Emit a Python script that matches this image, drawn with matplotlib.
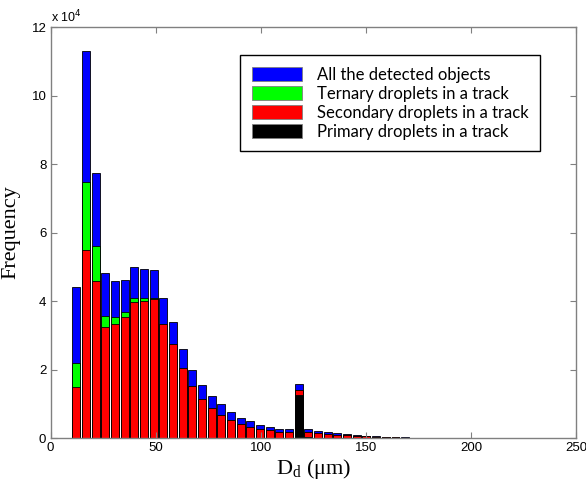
import numpy as np
import matplotlib.pyplot as plt

# bin edges of the histogram (um)
edges = np.linspace(10, 240, 51)
centers = (edges[:-1] + edges[1:]) / 2

# frequencies, in units of 1e4
all_obj = [4.40, 11.31, 7.75, 4.83, 4.58, 4.61, 5.00, 4.95, 4.90, 4.08,
           3.38, 2.59, 1.99, 1.54, 1.22, 0.98, 0.75, 0.59, 0.50, 0.39,
           0.33, 0.26, 0.25, 1.57, 0.25, 0.20, 0.175, 0.15, 0.12, 0.10,
           0.07, 0.05, 0.04, 0.03, 0.02, 0.01, 0.008, 0.006, 0.005, 0.004,
           0.004, 0.003, 0.003, 0.003, 0.002, 0.002, 0.0, 0.0, 0.0, 0.004]
ternary = [2.20, 7.47, 5.62, 3.57, 3.52, 3.67, 4.08, 4.10, 4.08, 3.34,
           2.74, 2.04, 1.51, 1.13, 0.88, 0.68, 0.52, 0.40, 0.33, 0.27,
           0.22, 0.17, 0.18, 1.40, 0.17, 0.14, 0.12, 0.09, 0.08, 0.06,
           0.05, 0.04, 0.03, 0.03, 0.015, 0.008, 0.006, 0.004, 0.003, 0.003,
           0.003, 0.002, 0.002, 0.002, 0.001, 0.001, 0.0, 0.0, 0.0, 0.003]
secondary = [1.48, 5.48, 4.59, 3.24, 3.32, 3.53, 3.96, 4.00, 4.05, 3.34,
             2.74, 2.04, 1.51, 1.13, 0.88, 0.68, 0.52, 0.40, 0.33, 0.27,
             0.22, 0.17, 0.18, 1.40, 0.17, 0.14, 0.12, 0.09, 0.08, 0.06,
             0.05, 0.04, 0.03, 0.03, 0.015, 0.008, 0.006, 0.004, 0.003, 0.003,
             0.003, 0.002, 0.002, 0.002, 0.001, 0.001, 0.0, 0.0, 0.0, 0.003]
primary = [0.0] * 23 + [1.25, 0.02] + [0.0] * 25

series = [(all_obj, 'blue', 'All the detected objects'),
          (ternary, '#00ff00', 'Ternary droplets in a track'),
          (secondary, 'red', 'Secondary droplets in a track'),
          (primary, 'black', 'Primary droplets in a track')]

fig = plt.figure(figsize=(5.86, 4.84), dpi=100)
ax = fig.add_axes([0.0862, 0.095, 0.8968, 0.849])

w = (edges[1] - edges[0]) * 0.82
for vals, col, lab in series:
    ax.bar(centers, np.array(vals) * 1e4, width=w, color=col,
           edgecolor='black', linewidth=0.6, label=lab)

ax.set_xlim(0, 250)
ax.set_ylim(0, 12e4)
ax.set_xticks([0, 50, 100, 150, 200, 250])
ax.set_yticks(np.arange(0, 12.1e4, 2e4))
ax.set_yticklabels([str(v) for v in range(0, 13, 2)])
ax.tick_params(direction='in', top=True, right=True, length=4,
               color='#808080', labelsize=9.5, pad=3)
for lbl in ax.get_xticklabels() + ax.get_yticklabels():
    lbl.set_family('Liberation Sans')
for s in ax.spines.values():
    s.set_color('#808080')
    s.set_linewidth(1.0)

ax.text(0.0, 1.005, r'x 10$^4$', transform=ax.transAxes, fontsize=9,
        family='Liberation Sans', ha='left', va='bottom')

ax.set_ylabel('Frequency', family='Liberation Serif', fontsize=16, labelpad=8)
ax.set_xlabel(r'D$_\mathregular{d}$ (μm)', family='Liberation Serif',
              fontsize=16, labelpad=2)

leg = ax.legend(loc='upper right', bbox_to_anchor=(0.932, 0.932),
                prop={'family': 'Lato', 'size': 12}, fancybox=False,
                framealpha=1, edgecolor='black', handlelength=3.0,
                handleheight=0.9, labelspacing=0.18, borderpad=0.7,
                handletextpad=0.9, borderaxespad=0)
leg.get_frame().set_linewidth(1.0)
for h in leg.legend_handles:
    h.set_edgecolor('#808080')

fig.savefig('out.png', dpi=100)
